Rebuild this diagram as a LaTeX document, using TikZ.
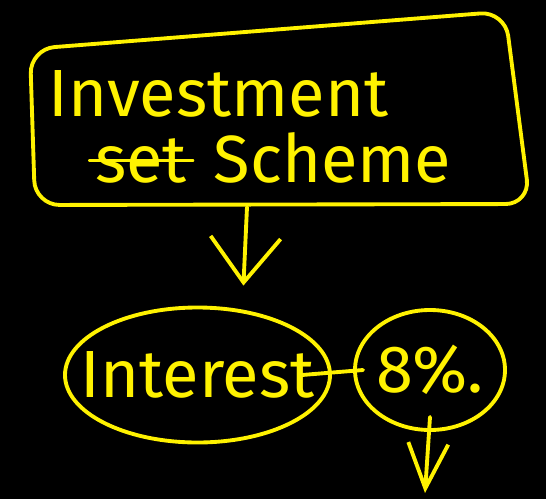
\documentclass[tikz,border=0pt]{standalone}
\usepackage{fontspec}
\setmainfont{Fira Sans}
\usetikzlibrary{arrows.meta,shapes.geometric}
\tikzset{
	chalk/.style={draw=yellow, line width=2.2pt, line cap=round, line join=round},
	chalktext/.style={text=yellow, font=\fontsize{38}{44}\selectfont},
	blob/.style={chalk, ellipse, inner sep=0pt, inner xsep=-0.6cm},
	vhead/.style={-{Straight Barb[length=9mm,width=14mm,line width=2.2pt]}},
}

\begin{document}
\begin{tikzpicture}
		%%%%% START %%%%%
		
		\fill[black] (0, 0) rectangle (10.92, 9.98);
		\useasboundingbox (0, 0) rectangle (10.92, 9.98);
		
		% the scheme frame
		\draw[chalk, rounded corners=14pt] (0.6, 9.0) -- (10.1, 9.75) -- (10.6, 5.9) -- (0.7, 5.88) -- cycle;
		\coordinate (framebottom) at (4.94, 5.84);
		
		\node[chalktext, anchor=base west] (invest) at (0.85, 7.64) {Investment};
		\node[chalktext, anchor=base west, inner sep=0pt] (set) at (1.9, 6.34) {set};
		\node[chalktext, anchor=base west] (scheme) at (4.15, 6.34) {Scheme};
		\draw[chalk] ([xshift=-0.1cm]set.west) -- ([xshift=0.1cm]set.east);
		
		% the two rings
		\node[blob, chalktext, minimum width=5.3cm, minimum height=2.7cm] (interest) at (3.95, 2.48) {Interest};
		\node[blob, chalktext, minimum width=3.0cm, minimum height=2.4cm] (pct) at (8.6, 2.58) {8\%.};
		\coordinate (below) at (8.5, 0.12);
		
		\draw[chalk, vhead, shorten >=0.4cm] (framebottom) -- ([xshift=0.9cm]interest.north);
		\draw[chalk] ([xshift=-0.6cm]interest.east) -- ([xshift=0.2cm]pct.west);
		\draw[chalk, -{Straight Barb[length=9mm,width=8mm,line width=2.2pt]}] ([yshift=0.3cm]pct.south) -- (below);
		
		%%%%% END %%%%%
	\end{tikzpicture}
\end{document}
